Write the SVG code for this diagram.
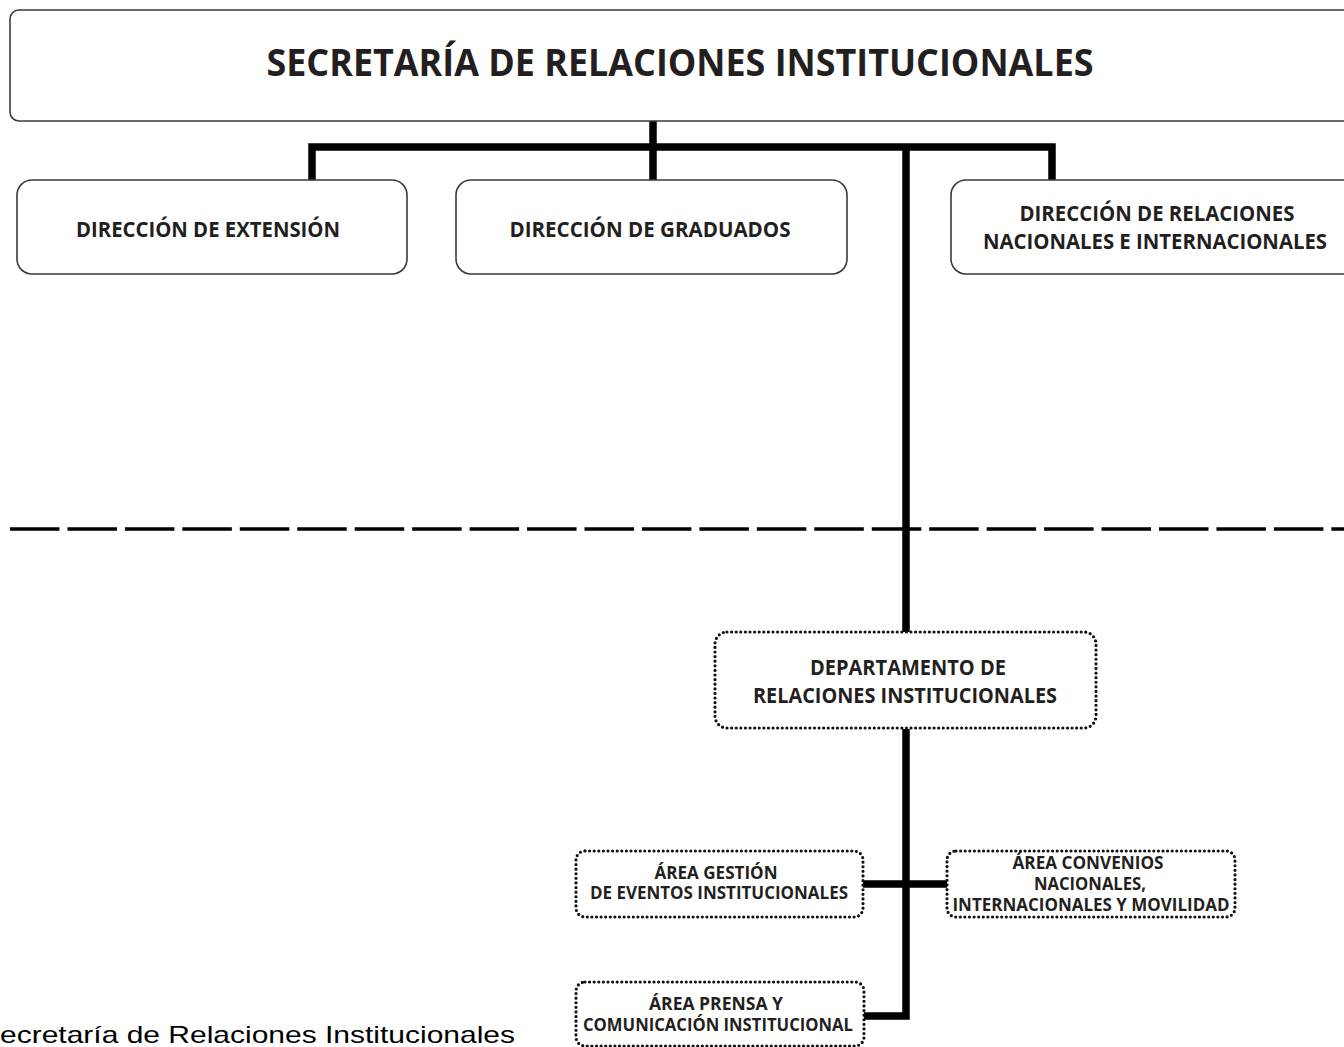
<svg xmlns="http://www.w3.org/2000/svg" width="1344" height="1047" viewBox="0 0 1344 1047">
<style>
.solid{fill:#fff;stroke:#3a3a3a;stroke-width:1.6}
.dot{fill:#fff;stroke:#111;stroke-width:3.2;stroke-dasharray:0 4.6;stroke-linecap:round}
.t{font-family:"Open Sans","Liberation Sans",sans-serif;font-weight:700;fill:#231f20;text-anchor:middle}
.conn{fill:none;stroke:#000;stroke-width:7.5;stroke-linejoin:miter}
</style>
<rect x="0" y="0" width="1344" height="1047" fill="#fff"/>
<g id="connectors">
<path class="conn" d="M653 121 V180 M312 180 V147 H1052 V180 M906 147 V632"/>
<path class="conn" d="M906 729 V1016 H863 M863 884 H947"/>
<line x1="10" y1="529" x2="1344" y2="529" stroke="#000" stroke-width="3.6" stroke-dasharray="49.5 7.95"/>
</g>
<g id="secretaria">
<rect class="solid" x="10" y="10" width="1360" height="111" rx="9"/>
<text class="t" x="680" y="76" font-size="38" font-weight="800" textLength="827" lengthAdjust="spacingAndGlyphs">SECRETARÍA DE RELACIONES INSTITUCIONALES</text>
</g>
<g id="dir-extension">
<rect class="solid" x="17" y="180" width="390" height="94" rx="15"/>
<text class="t" x="208" y="237" font-size="22" textLength="264" lengthAdjust="spacingAndGlyphs">DIRECCIÓN DE EXTENSIÓN</text>
</g>
<g id="dir-graduados">
<rect class="solid" x="456" y="180" width="391" height="94" rx="15"/>
<text class="t" x="650" y="237" font-size="22" textLength="281" lengthAdjust="spacingAndGlyphs">DIRECCIÓN DE GRADUADOS</text>
</g>
<g id="dir-relaciones">
<rect class="solid" x="951" y="180" width="420" height="94" rx="15"/>
<text class="t" x="1157" y="221" font-size="22" textLength="275" lengthAdjust="spacingAndGlyphs">DIRECCIÓN DE RELACIONES</text>
<text class="t" x="1155" y="249" font-size="22" textLength="344" lengthAdjust="spacingAndGlyphs">NACIONALES E INTERNACIONALES</text>
</g>
<g id="depto">
<rect class="dot" x="715" y="632" width="381" height="96" rx="12"/>
<text class="t" x="908" y="675" font-size="21" textLength="196" lengthAdjust="spacingAndGlyphs">DEPARTAMENTO DE</text>
<text class="t" x="905" y="703" font-size="21" textLength="304" lengthAdjust="spacingAndGlyphs">RELACIONES INSTITUCIONALES</text>
</g>
<g id="area-eventos">
<rect class="dot" x="576" y="851" width="287" height="66" rx="9"/>
<text class="t" x="716" y="879" font-size="17" textLength="123" lengthAdjust="spacingAndGlyphs">ÁREA GESTIÓN</text>
<text class="t" x="719" y="899" font-size="17" textLength="258" lengthAdjust="spacingAndGlyphs">DE EVENTOS INSTITUCIONALES</text>
</g>
<g id="area-convenios">
<rect class="dot" x="947" y="851" width="288" height="66" rx="9"/>
<text class="t" x="1088" y="869" font-size="17" textLength="151" lengthAdjust="spacingAndGlyphs">ÁREA CONVENIOS</text>
<text class="t" x="1090" y="890" font-size="17" textLength="112" lengthAdjust="spacingAndGlyphs">NACIONALES,</text>
<text class="t" x="1091" y="911" font-size="17" textLength="277" lengthAdjust="spacingAndGlyphs">INTERNACIONALES Y MOVILIDAD</text>
</g>
<g id="area-prensa">
<rect class="dot" x="576" y="982" width="288" height="64" rx="9"/>
<text class="t" x="716" y="1010" font-size="17" textLength="134" lengthAdjust="spacingAndGlyphs">ÁREA PRENSA Y</text>
<text class="t" x="718" y="1031" font-size="17" textLength="270" lengthAdjust="spacingAndGlyphs">COMUNICACIÓN INSTITUCIONAL</text>
</g>
<text x="0" y="1043" font-family="'Liberation Sans',Arial,sans-serif" font-size="24" fill="#000" textLength="515" lengthAdjust="spacingAndGlyphs">ecretaría de Relaciones Institucionales</text>
</svg>
